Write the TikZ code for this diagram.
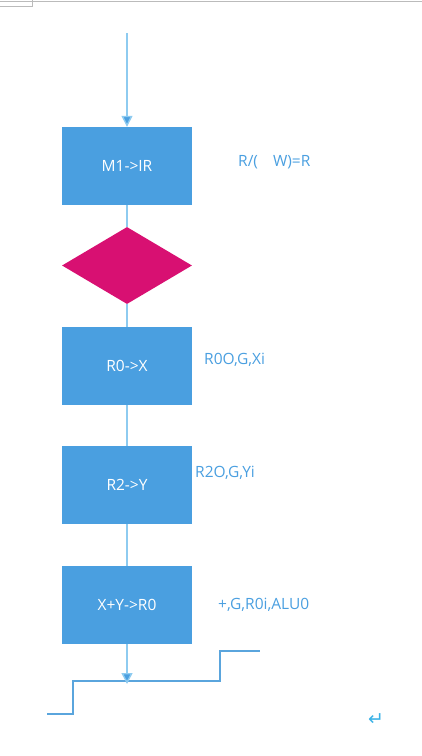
\documentclass[tikz,border=0pt]{standalone}
\usepackage{fontspec}
\setmainfont{Open Sans}
\newfontfamily\symfont{DejaVu Sans}
\usetikzlibrary{arrows.meta,shapes.geometric}
\definecolor{boxblue}{HTML}{4A9FE0}
\definecolor{linkblue}{HTML}{8ECBF0}
\definecolor{labelblue}{HTML}{4A9FE0}
\definecolor{stepblue}{HTML}{5AA5DD}
\definecolor{magentaD}{HTML}{D81072}
\definecolor{gridgray}{HTML}{BBBBBB}
\tikzset{
  procbox/.style={draw=none,fill=boxblue,minimum width=130pt,minimum height=78pt,inner sep=0pt,text=white,font=\fontsize{15.5pt}{18pt}\selectfont},
  decision/.style={diamond,draw=none,fill=magentaD,minimum width=130pt,minimum height=77pt,inner sep=0pt,aspect=1.69},
  link/.style={draw=linkblue,line width=1.4pt},
  arrowlink/.style={link,-{Triangle[width=11pt,length=11pt,fill=boxblue]}},
  sidelabel/.style={text=labelblue,font=\fontsize{15.5pt}{18pt}\selectfont,anchor=west,inner sep=0pt},
}
\begin{document}
\begin{tikzpicture}[x=1pt,y=-1pt]
\useasboundingbox (0,0) rectangle (422,756);
% top gray page marks
\draw[gridgray,line width=1pt] (0,1.5) -- (422,1.5);
\draw[gridgray,line width=1pt] (0,6) -- (32.5,6) -- (32.5,0);
% nodes
\coordinate (start) at (127,33);
\node[procbox] (b1) at (127,166) {M1->IR};
\node[decision] (d1) at (127,265.5) {};
\node[procbox] (b2) at (127,366) {R0->X};
\node[procbox] (b3) at (127,485) {R2->Y};
\node[procbox] (b4) at (127,605) {X+Y->R0};
\coordinate (endp) at (127,684);
% connectors
\draw[arrowlink] (start) -- (b1.north);
\draw[link] (b1.south) -- (d1.north);
\draw[link] (d1.south) -- (b2.north);
\draw[link] (b2.south) -- (b3.north);
\draw[link] (b3.south) -- (b4.north);
% step waveform
\draw[stepblue,line width=1.2pt] (47,714) -- (73,714) -- (73,681) -- (220,681) -- (220,651) -- (260,651);
\draw[arrowlink] (b4.south) -- (endp);
% labels
\node[sidelabel] (l1) at (238,162) {R/(\hspace{15pt}W)=R};
\node[sidelabel] (l2) at (204,360) {R0O,G,Xi};
\node[sidelabel] (l3) at (195,473) {R2O,G,Yi};
\node[sidelabel] (l4) at (218,605) {+,G,R0i,ALU0};
\node[text=labelblue!80!cyan,font=\symfont\fontsize{19pt}{21pt}\selectfont,inner sep=0pt] (ret) at (376,720) {↵};
\end{tikzpicture}
\end{document}
